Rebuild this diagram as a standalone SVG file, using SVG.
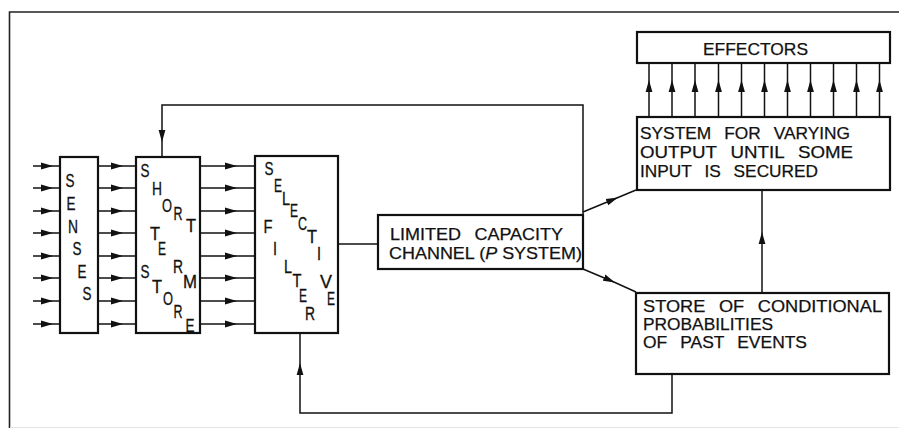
<svg xmlns="http://www.w3.org/2000/svg" width="899" height="428" viewBox="0 0 899 428">
<style>
.box{fill:#fff;stroke:#111;stroke-width:2.2}
.ln{fill:none;stroke:#111;stroke-width:1.5}
.ar{fill:none;stroke:#111;stroke-width:1.5;marker-mid:url(#ah)}
.frame{fill:none;stroke:#222;stroke-width:1.6}
.lt{font-family:"Liberation Sans",Arial,sans-serif;font-size:18px;fill:#111;stroke:#111;stroke-width:0.3;text-anchor:middle}
.tx{font-family:"Liberation Sans",Arial,sans-serif;font-size:17px;fill:#111;stroke:#111;stroke-width:0.25}
</style>
<defs>
<marker id="ah" viewBox="0 0 12 8" refX="12" refY="4" markerWidth="12" markerHeight="8" markerUnits="userSpaceOnUse" orient="auto">
<path d="M0,0.6 L12,4 L0,7.4 Z" fill="#111"/>
</marker>
</defs>
<rect width="899" height="428" fill="#fff"/>
<g id="frame">
<path class="frame" d="M9.5,428 V12 H899"/>
<line x1="10" y1="427.5" x2="899" y2="427.5" stroke="#e2e2e2" stroke-width="1"/>
</g>
<g id="connectors">
<path class="ar" d="M33,166 H53 H60"/>
<path class="ar" d="M33,188 H53 H60"/>
<path class="ar" d="M33,211 H53 H60"/>
<path class="ar" d="M33,233 H53 H60"/>
<path class="ar" d="M33,256 H53 H60"/>
<path class="ar" d="M33,278 H53 H60"/>
<path class="ar" d="M33,301 H53 H60"/>
<path class="ar" d="M33,324 H53 H60"/>
<path class="ar" d="M98,166 H123 H136"/>
<path class="ar" d="M98,188 H123 H136"/>
<path class="ar" d="M98,211 H123 H136"/>
<path class="ar" d="M98,233 H123 H136"/>
<path class="ar" d="M98,256 H123 H136"/>
<path class="ar" d="M98,278 H123 H136"/>
<path class="ar" d="M98,301 H123 H136"/>
<path class="ar" d="M98,324 H123 H136"/>
<path class="ar" d="M200,166 H237 H255"/>
<path class="ar" d="M200,188 H237 H255"/>
<path class="ar" d="M200,211 H237 H255"/>
<path class="ar" d="M200,233 H237 H255"/>
<path class="ar" d="M200,256 H237 H255"/>
<path class="ar" d="M200,278 H237 H255"/>
<path class="ar" d="M200,301 H237 H255"/>
<path class="ar" d="M200,324 H237 H255"/>
<line class="ln" x1="338" y1="244" x2="378" y2="244"/>
<path class="ln" d="M583,215 V105 H162 V120"/>
<path class="ar" d="M162,120 V142 V157"/>
<path class="ar" d="M583,212 L618,197.5 L636,190"/>
<path class="ar" d="M583,269 L615,282.5 L636,292"/>
<path class="ar" d="M762,293 V232 V190"/>
<path class="ln" d="M672,374 V413 H300 V380"/>
<path class="ar" d="M300,380 V363 V333"/>
<path class="ar" d="M649,117 V80 V63"/>
<path class="ar" d="M672,117 V80 V63"/>
<path class="ar" d="M695,117 V80 V63"/>
<path class="ar" d="M718.5,117 V80 V63"/>
<path class="ar" d="M741.5,117 V80 V63"/>
<path class="ar" d="M764.5,117 V80 V63"/>
<path class="ar" d="M787.5,117 V80 V63"/>
<path class="ar" d="M810.5,117 V80 V63"/>
<path class="ar" d="M833.5,117 V80 V63"/>
<path class="ar" d="M856.5,117 V80 V63"/>
<path class="ar" d="M879.5,117 V80 V63"/>
</g>
<g id="senses">
<rect class="box" x="60" y="157" width="38" height="176"/>
<text class="lt" x="70" y="187" textLength="9" lengthAdjust="spacingAndGlyphs">S</text>
<text class="lt" x="71" y="210" textLength="9" lengthAdjust="spacingAndGlyphs">E</text>
<text class="lt" x="73" y="233" textLength="10" lengthAdjust="spacingAndGlyphs">N</text>
<text class="lt" x="77" y="255" textLength="9" lengthAdjust="spacingAndGlyphs">S</text>
<text class="lt" x="82" y="278" textLength="9" lengthAdjust="spacingAndGlyphs">E</text>
<text class="lt" x="87" y="300" textLength="9" lengthAdjust="spacingAndGlyphs">S</text>
</g>
<g id="short-term-store">
<rect class="box" x="136" y="157" width="64" height="176"/>
<text class="lt" x="145" y="177" textLength="9" lengthAdjust="spacingAndGlyphs">S</text>
<text class="lt" x="157" y="195" textLength="10" lengthAdjust="spacingAndGlyphs">H</text>
<text class="lt" x="167" y="212" textLength="10" lengthAdjust="spacingAndGlyphs">O</text>
<text class="lt" x="178" y="220" textLength="9" lengthAdjust="spacingAndGlyphs">R</text>
<text class="lt" x="191" y="232" textLength="10" lengthAdjust="spacingAndGlyphs">T</text>
<text class="lt" x="155" y="240" textLength="10" lengthAdjust="spacingAndGlyphs">T</text>
<text class="lt" x="162" y="255" textLength="8" lengthAdjust="spacingAndGlyphs">E</text>
<text class="lt" x="178" y="273" textLength="10" lengthAdjust="spacingAndGlyphs">R</text>
<text class="lt" x="190" y="288" textLength="14" lengthAdjust="spacingAndGlyphs">M</text>
<text class="lt" x="145" y="278" textLength="9" lengthAdjust="spacingAndGlyphs">S</text>
<text class="lt" x="157" y="293" textLength="10" lengthAdjust="spacingAndGlyphs">T</text>
<text class="lt" x="168" y="305" textLength="10" lengthAdjust="spacingAndGlyphs">O</text>
<text class="lt" x="178" y="318" textLength="9" lengthAdjust="spacingAndGlyphs">R</text>
<text class="lt" x="190" y="332" textLength="9" lengthAdjust="spacingAndGlyphs">E</text>
</g>
<g id="selective-filter">
<rect class="box" x="255" y="156" width="83" height="177"/>
<text class="lt" x="269" y="175" textLength="9" lengthAdjust="spacingAndGlyphs">S</text>
<text class="lt" x="278" y="192" textLength="8" lengthAdjust="spacingAndGlyphs">E</text>
<text class="lt" x="286" y="205" textLength="8" lengthAdjust="spacingAndGlyphs">L</text>
<text class="lt" x="294" y="217" textLength="8" lengthAdjust="spacingAndGlyphs">E</text>
<text class="lt" x="302.5" y="230" textLength="9" lengthAdjust="spacingAndGlyphs">C</text>
<text class="lt" x="312" y="243" textLength="10" lengthAdjust="spacingAndGlyphs">T</text>
<text class="lt" x="319" y="260" textLength="4" lengthAdjust="spacingAndGlyphs">I</text>
<text class="lt" x="326" y="288" textLength="12" lengthAdjust="spacingAndGlyphs">V</text>
<text class="lt" x="331" y="305" textLength="8" lengthAdjust="spacingAndGlyphs">E</text>
<text class="lt" x="268" y="233" textLength="9" lengthAdjust="spacingAndGlyphs">F</text>
<text class="lt" x="275" y="255" textLength="4" lengthAdjust="spacingAndGlyphs">I</text>
<text class="lt" x="288" y="273" textLength="8" lengthAdjust="spacingAndGlyphs">L</text>
<text class="lt" x="297" y="287" textLength="9" lengthAdjust="spacingAndGlyphs">T</text>
<text class="lt" x="303" y="302" textLength="8" lengthAdjust="spacingAndGlyphs">E</text>
<text class="lt" x="310" y="320" textLength="10" lengthAdjust="spacingAndGlyphs">R</text>
</g>
<g id="limited-capacity-channel">
<rect class="box" x="378" y="215" width="205" height="54"/>
<text class="tx" x="390" y="240" textLength="173" lengthAdjust="spacingAndGlyphs" style="word-spacing:8px">LIMITED CAPACITY</text>
<text class="tx" x="389" y="259" textLength="193" lengthAdjust="spacingAndGlyphs">CHANNEL (<tspan font-style="italic">P</tspan> SYSTEM)</text>
</g>
<g id="effectors">
<rect class="box" x="637" y="32" width="253" height="31"/>
<text class="tx" x="703" y="55" textLength="105" lengthAdjust="spacingAndGlyphs">EFFECTORS</text>
</g>
<g id="system-for-varying-output">
<rect class="box" x="637" y="117" width="253" height="73"/>
<text class="tx" x="640" y="139" textLength="210" lengthAdjust="spacingAndGlyphs" style="word-spacing:8px">SYSTEM FOR VARYING</text>
<text class="tx" x="640" y="158" textLength="213" lengthAdjust="spacingAndGlyphs" style="word-spacing:8px">OUTPUT UNTIL SOME</text>
<text class="tx" x="640" y="177" textLength="178" lengthAdjust="spacingAndGlyphs" style="word-spacing:8px">INPUT IS SECURED</text>
</g>
<g id="store-of-conditional-probabilities">
<rect class="box" x="636" y="293" width="253" height="81"/>
<text class="tx" x="643" y="312" textLength="239" lengthAdjust="spacingAndGlyphs" style="word-spacing:8px">STORE OF CONDITIONAL</text>
<text class="tx" x="643" y="330" textLength="130" lengthAdjust="spacingAndGlyphs">PROBABILITIES</text>
<text class="tx" x="643" y="348" textLength="164" lengthAdjust="spacingAndGlyphs" style="word-spacing:8px">OF PAST EVENTS</text>
</g>
</svg>
